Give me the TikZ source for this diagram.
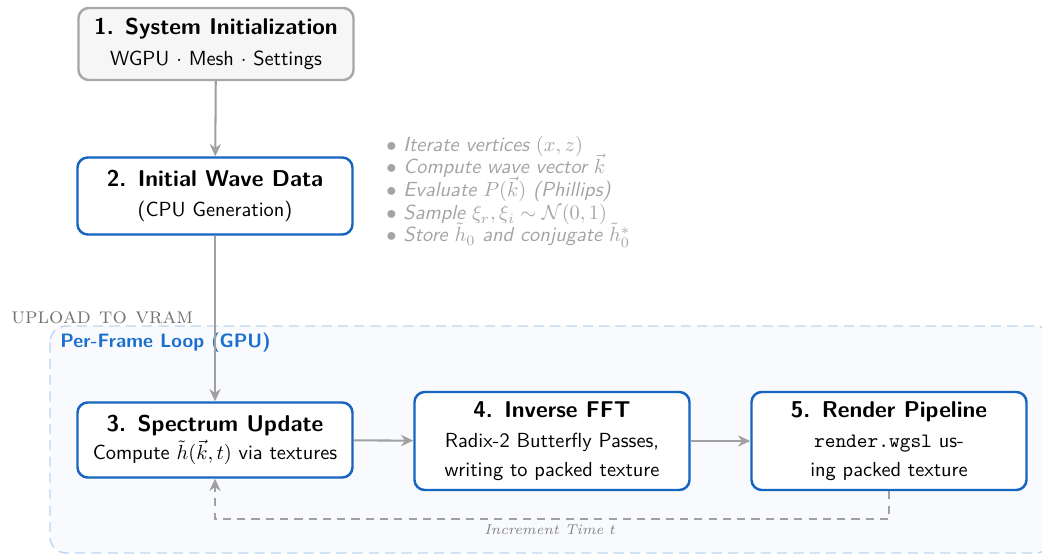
\documentclass[tikz,border=0pt]{standalone}
\usetikzlibrary{arrows.meta}
\definecolor{stepblue}{HTML}{1565C0}
\definecolor{looptitle}{HTML}{1A6FD0}
\definecolor{loopfill}{HTML}{F8FAFD}
\definecolor{loopline}{HTML}{BBD6F2}
\definecolor{flowgray}{HTML}{A0A0A0}
\definecolor{notegray}{HTML}{A4A4A4}
\definecolor{initfill}{HTML}{F6F6F6}
\definecolor{initline}{HTML}{A8A8A8}
\def\u{0.49pt}
\tikzset{
  stepbox/.style={draw=stepblue, line width=1.2pt, fill=white, rounded corners=5pt,
    minimum width=275*\u, align=center, font=\sffamily, inner sep=2pt},
  initbox/.style={stepbox, draw=initline, fill=initfill},
  flow/.style={draw=flowgray, line width=1pt, -{Stealth[length=6pt,width=5.5pt]}},
  backflow/.style={flow, dash pattern=on 4pt off 3pt},
  note/.style={anchor=base west, font=\sffamily\itshape, text=notegray, inner sep=0pt},
}
\newcommand{\ttl}[2]{{\fontsize{11.2}{13.5}\selectfont\bfseries #1.\hspace{0.5em}#2}}
\begin{document}
\begin{tikzpicture}[x=\u,y=-\u]
\useasboundingbox (0,0) rectangle (1042,557);
\begin{scope}
\clip (0,0) rectangle (1042,557);
% per-frame loop region
\draw[draw=loopline, fill=loopfill, line width=0.7pt, dash pattern=on 5pt off 3pt,
  rounded corners=8pt] (50,326) rectangle (1052,553);
\end{scope}
\node[anchor=base west, font=\fontsize{9.5}{11}\selectfont\sffamily\bfseries, text=looptitle,
  inner sep=0pt] (looplbl) at (60,348) {Per-Frame Loop (GPU)};

% stages
\node[initbox, minimum height=72*\u] (s1) at (216,44)
  {\ttl{1}{System Initialization}\\[3pt] WGPU $\cdot$ Mesh $\cdot$ Settings};
\node[stepbox, minimum height=77*\u] (s2) at (215,196)
  {\ttl{2}{Initial Wave Data}\\[3pt] (CPU Generation)};
\node[stepbox, minimum height=75*\u] (s3) at (215,440)
  {\ttl{3}{Spectrum Update}\\[2pt] Compute $\tilde{h}(\vec{k},t)$ via textures};
\node[stepbox, minimum height=98*\u] (s4) at (552,441)
  {\ttl{4}{Inverse FFT}\\[3pt] Radix-2 Butterfly Passes,\\[2pt] writing to packed texture};
\node[stepbox, minimum height=98*\u] (s5) at (889,441)
  {\ttl{5}{Render Pipeline}\\[3pt] \texttt{render.wgsl} us-\\[2pt] ing packed texture};

% notes on the CPU generation step
\node[note] (n1) at (386,152) {$\bullet$ Iterate vertices $(x,z)$};
\node[note] (n2) at (386,174) {$\bullet$ Compute wave vector $\vec{k}$};
\node[note] (n3) at (386,197) {$\bullet$ Evaluate $P(\vec{k})$ (Phillips)};
\node[note] (n4) at (386,220) {$\bullet$ Sample $\xi_r,\xi_i\sim\mathcal{N}(0,1)$};
\node[note] (n5) at (386,242) {$\bullet$ Store $\tilde{h}_0$ and conjugate $\tilde{h}_0^{*}$};

\node[anchor=base west, font=\fontsize{11}{13}\selectfont\scshape, text=black!55,
  inner sep=0pt] (upload) at (11,324) {upload to vram};

% connectors
\draw[flow] (s1) -- (s2);
\draw[flow] (s2) -- (s3);
\draw[flow] (s3) -- (s4);
\draw[flow] (s4) -- (s5);
\coordinate (turn) at (889,519);
\draw[backflow] (s5.south) -- (turn) -| (s3.south);
\node[anchor=base, font=\scriptsize\itshape, text=gray, inner sep=0pt] (inc) at (550,535) {Increment Time $t$};
\end{tikzpicture}
\end{document}
